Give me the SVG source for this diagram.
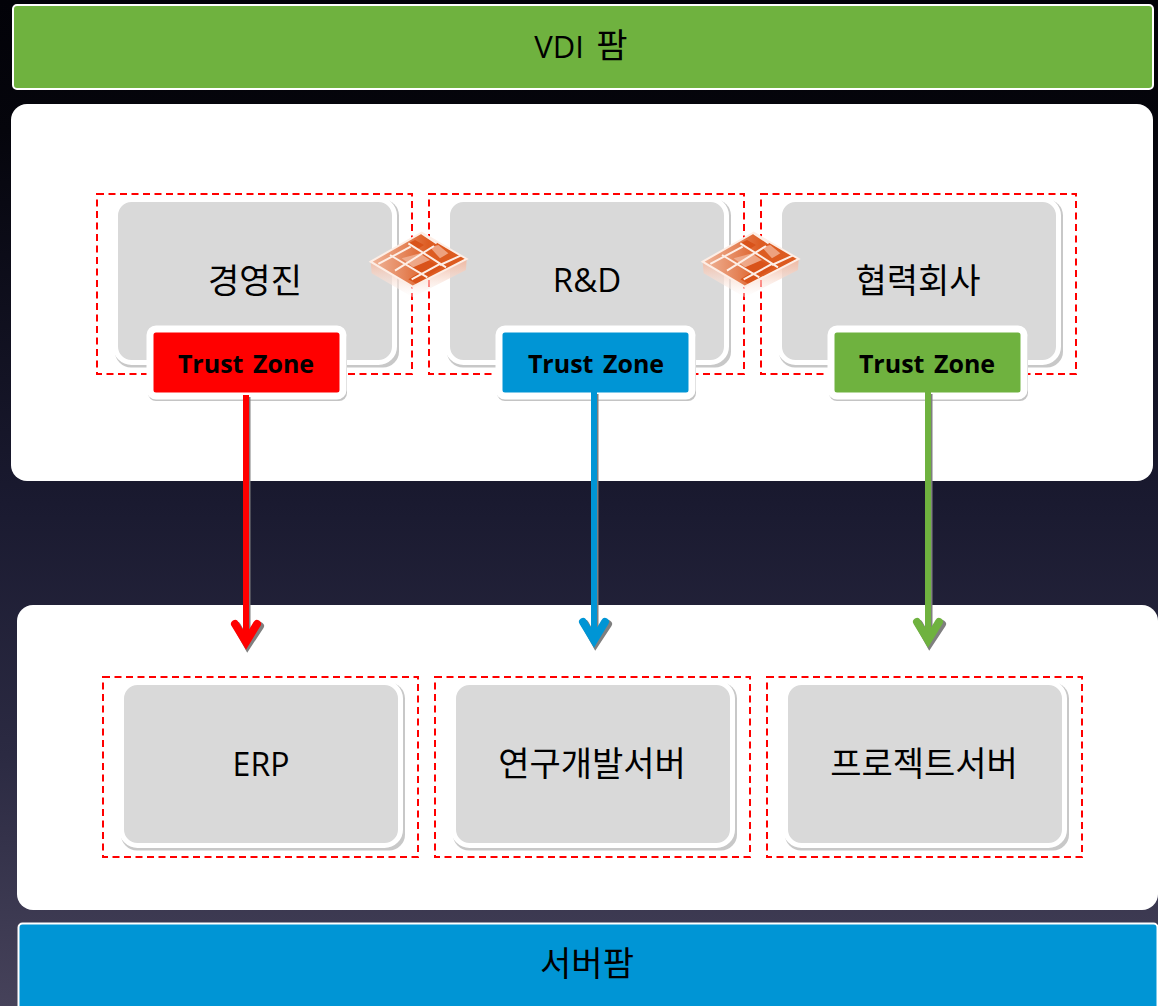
<svg xmlns="http://www.w3.org/2000/svg" width="1158" height="1006" viewBox="0 0 1158 1006">
<style>
text{font-family:"Noto Sans CJK KR","Noto Sans",sans-serif;text-anchor:middle;fill:#000}
.lbl{font-size:34px}
.lat{font-family:"Open Sans","Noto Sans CJK KR",sans-serif;font-size:32px}
.tz{font-family:"Open Sans","Noto Sans CJK KR",sans-serif;font-size:25px;font-weight:700;word-spacing:3px}
.panel{fill:#fff}
.dash{fill:none;stroke:#f00;stroke-width:2;stroke-dasharray:7 4.500}
.card{fill:#d9d9d9;stroke:#fff;stroke-width:5}
.cardsh{fill:#c8c8c8}
.tzb{stroke:#fff;stroke-width:7}
.tzs{fill:#c4c4c4}
.line{fill:none;stroke-width:6}
.head{fill:none;stroke-width:8;stroke-linejoin:miter;stroke-linecap:round}
.sh{stroke:#7f7f7f}
</style>
<defs>
<linearGradient id="bg" x1="0" y1="0" x2="0" y2="1">
<stop offset="0" stop-color="#020208"/><stop offset=".13" stop-color="#05050c"/><stop offset=".5" stop-color="#1a1a30"/><stop offset=".75" stop-color="#2b2a42"/><stop offset="1" stop-color="#46425a"/>
</linearGradient>
<linearGradient id="fwside" x1="0" y1="0" x2="0" y2="1">
<stop offset="0" stop-color="#f0b69e"/><stop offset="1" stop-color="#fff" stop-opacity=".4"/>
</linearGradient>
<linearGradient id="fwtop" x1="0" y1="0" x2="1" y2="0">
<stop offset="0" stop-color="#f0b79c"/><stop offset=".35" stop-color="#e5855a"/><stop offset=".6" stop-color="#dd5c22"/><stop offset="1" stop-color="#dc5a1e"/>
</linearGradient>
<g id="fw" transform="translate(340 190) scale(.3333)">
<polygon points="92,215 218,290 380,207 378,240 218,322 95,250" fill="url(#fwside)"/>
<polygon points="92,215 245,128 380,207 218,290" fill="url(#fwtop)"/>
<g fill="#d9531a">
<polygon points="205,160 225,150 252,165 232,178"/>
<polygon points="215,232 265,212 305,232 262,258"/>
<polygon points="205,268 235,250 262,262 230,282"/>
</g>
<g fill="#f3b99f" opacity=".75">
<polygon points="185,205 240,190 270,210 220,232"/>
<polygon points="270,172 295,165 325,190 300,205"/>
</g>
<g fill="none" stroke="#fdeee6" stroke-width="6">
<polygon points="92,215 245,128 380,207 218,290"/>
<path d="M150,195L262,262M205,160L318,232M245,130L290,160M115,222L212,170M165,242L282,168M215,268L300,222M300,225L362,197"/>
</g>
</g>
</defs>
<rect width="1158" height="1006" fill="url(#bg)"/>
<g id="vdi-farm"><rect x="13" y="5" width="1140" height="84" rx="4" fill="#6fb23f" stroke="#fff" stroke-width="2"/><text class="lat" x="559" y="58" style="font-size:31px">VDI</text><text class="lbl" x="612" y="58">팜</text></g>
<g id="upper-panel"><rect class="panel" x="11" y="104" width="1142" height="377" rx="16"/></g>
<g id="lower-panel"><rect class="panel" x="17" y="605" width="1141" height="305" rx="16"/></g>
<g id="server-farm"><rect x="18.500" y="923.500" width="1139" height="90" rx="4" fill="#0095d5" stroke="#fff" stroke-width="2"/><text class="lbl" x="587" y="976">서버팜</text></g>

<g id="zone-exec"><rect class="dash" x="97" y="194" width="315" height="180"/><rect class="cardsh" x="115" y="199.500" width="284" height="168" rx="16"/><rect class="card" x="115.500" y="199.500" width="279" height="163" rx="16"/><text class="lbl" x="255" y="293">경영진</text></g>
<g id="zone-rnd"><rect class="dash" x="429" y="194" width="315" height="180"/><rect class="cardsh" x="447" y="199.500" width="284" height="168" rx="16"/><rect class="card" x="447.500" y="199.500" width="279" height="163" rx="16"/><text class="lat" x="587" y="292" style="font-size:33px">R&amp;D</text></g>
<g id="zone-partner"><rect class="dash" x="761" y="194" width="315" height="180"/><rect class="cardsh" x="779" y="199.500" width="284" height="168" rx="16"/><rect class="card" x="779.500" y="199.500" width="279" height="163" rx="16"/><text class="lbl" x="918" y="293">협력회사</text></g>

<g id="zone-erp"><rect class="dash" x="103" y="677" width="315" height="180"/><rect class="cardsh" x="121" y="682.500" width="284" height="168" rx="16"/><rect class="card" x="121.500" y="682.500" width="279" height="163" rx="16"/><text class="lat" x="261" y="776">ERP</text></g>
<g id="zone-dev"><rect class="dash" x="435" y="677" width="315" height="180"/><rect class="cardsh" x="453" y="682.500" width="284" height="168" rx="16"/><rect class="card" x="453.500" y="682.500" width="279" height="163" rx="16"/><text class="lbl" x="592" y="776">연구개발서버</text></g>
<g id="zone-project"><rect class="dash" x="767" y="677" width="315" height="180"/><rect class="cardsh" x="785" y="682.500" width="284" height="168" rx="16"/><rect class="card" x="785.500" y="682.500" width="279" height="163" rx="16"/><text class="lbl" x="924" y="776">프로젝트서버</text></g>

<g id="firewall-1"><use href="#fw"/></g>
<g id="firewall-2"><use href="#fw" x="332"/></g>

<g id="trust-exec"><rect class="tzs" x="148" y="331" width="199" height="70" rx="8"/><rect class="tzb" x="150" y="329" width="193" height="67" rx="6" fill="#f00"/><text class="tz" x="246" y="373">Trust Zone</text></g>
<g id="trust-rnd"><rect class="tzs" x="497" y="331" width="199" height="70" rx="8"/><rect class="tzb" x="499" y="329" width="193" height="67" rx="6" fill="#0095d5"/><text class="tz" x="596" y="373">Trust Zone</text></g>
<g id="trust-partner"><rect class="tzs" x="829" y="331" width="199" height="70" rx="8"/><rect class="tzb" x="831" y="329" width="193" height="67" rx="6" fill="#6fb23f"/><text class="tz" x="927" y="373">Trust Zone</text></g>

<g id="connectors">
<path class="line sh" d="M247.500 397V640"/><path class="head sh" d="M237 626L247.500 645L260 626"/>
<path class="line" stroke="#f00" d="M246 395V640"/><path class="head" stroke="#f00" d="M235 624L246 642L257 624"/>
<path class="line sh" d="M595.500 394V638"/><path class="head sh" d="M585 624L595.500 643L608 624"/>
<path class="line" stroke="#0095d5" d="M594 392V638"/><path class="head" stroke="#0095d5" d="M583 622L594 640L605 622"/>
<path class="line sh" d="M929.500 394V638"/><path class="head sh" d="M919 624L929.500 643L942 624"/>
<path class="line" stroke="#6fb23f" d="M928 392V638"/><path class="head" stroke="#6fb23f" d="M917 622L928 640L939 622"/>
</g>
</svg>
